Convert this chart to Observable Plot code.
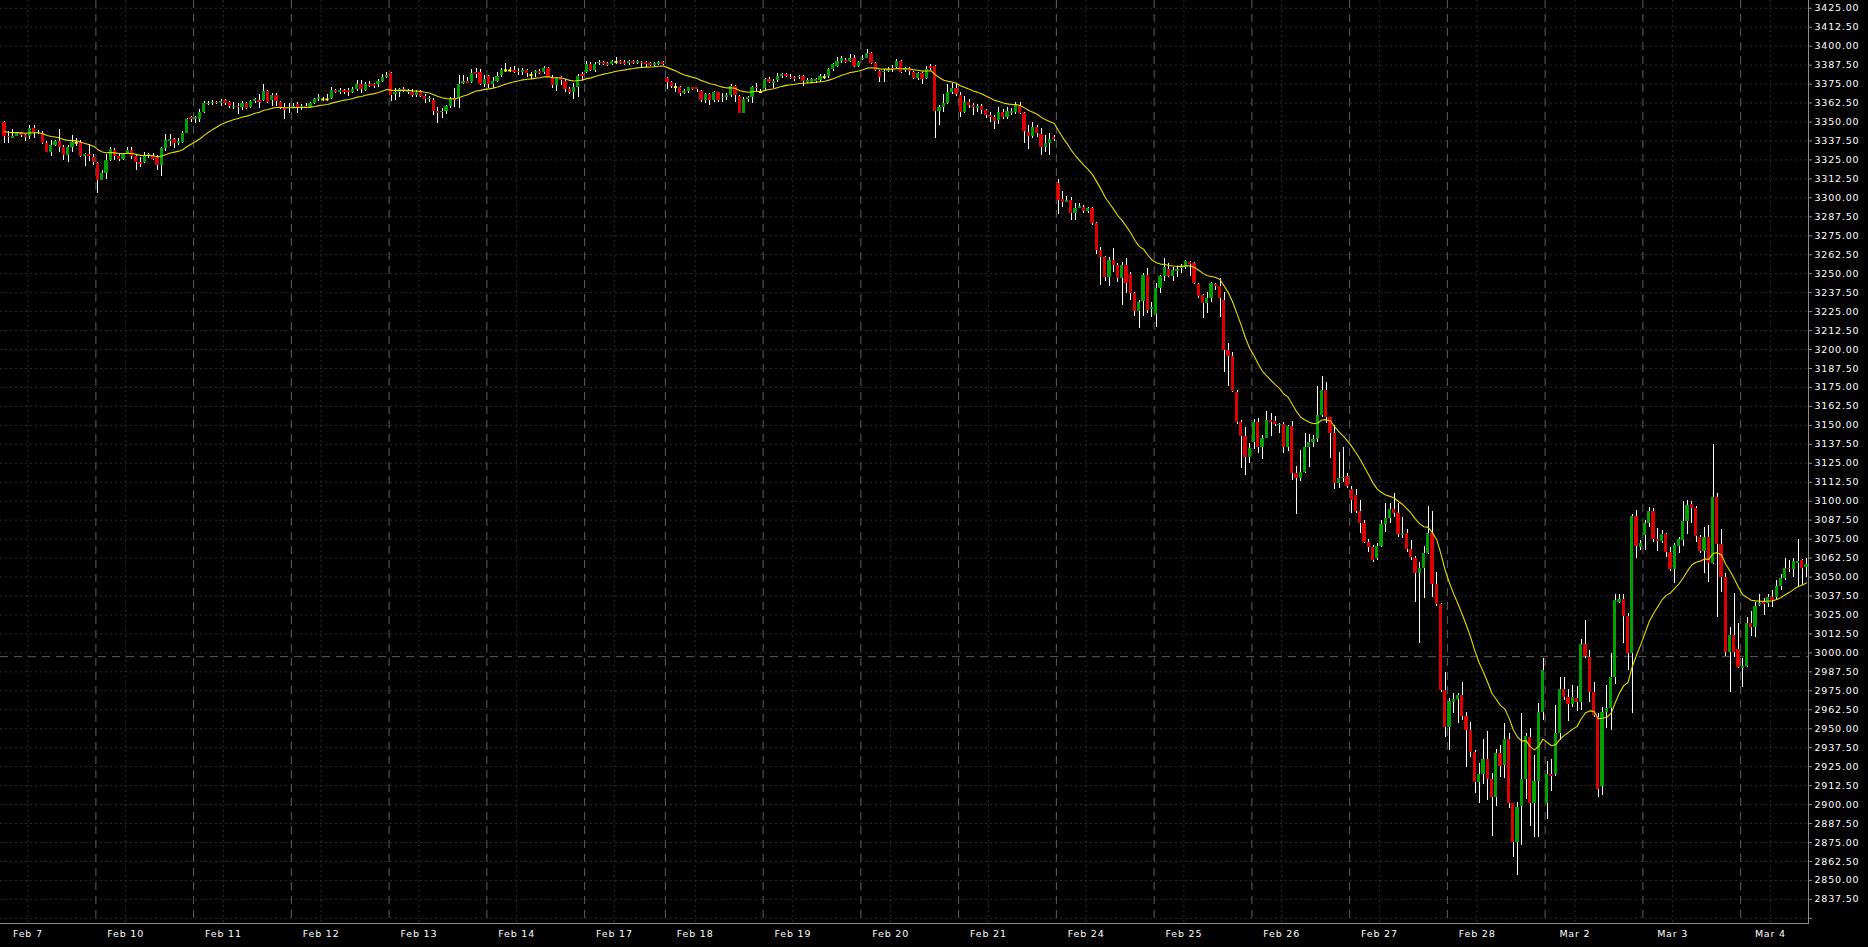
<!DOCTYPE html>
<html><head><meta charset="utf-8">
<script src="https://cdn.jsdelivr.net/npm/d3@7"></script>
<script src="https://cdn.jsdelivr.net/npm/@observablehq/plot@0.6"></script>
<style>html,body{margin:0;padding:0;background:#000;overflow:hidden}</style>
</head><body><div id="chart"></div>
<script>
// ---- Data (hourly candles, index 0..424) ----
const open = [
3349.7,3340.4,3339.3,3340.7,3342.2,3341.1,3340.4,3345.7,3342.2,3342.6,
3335.6,3330.1,3334.5,3337.1,3333.0,3327.9,3333.0,3336.3,3336.3,3327.5,
3328.3,3326.8,3322.4,3311.6,3315.8,3324.6,3331.2,3327.5,3325.3,3329.0,
3331.2,3327.5,3323.1,3323.1,3327.5,3327.5,3326.8,3321.3,3332.7,3337.1,
3338.5,3336.0,3336.7,3342.6,3352.8,3351.7,3351.7,3356.5,3361.6,3362.0,
3363.1,3362.4,3364.2,3362.7,3359.8,3360.5,3359.8,3362.4,3359.8,3363.5,
3364.2,3364.2,3370.1,3364.2,3367.5,3363.1,3359.8,3359.1,3359.4,3361.3,
3359.4,3360.2,3359.8,3362.0,3364.6,3364.9,3364.9,3365.7,3370.8,3369.3,
3370.8,3370.8,3369.7,3371.2,3374.8,3370.8,3374.8,3374.8,3374.8,3376.7,
3379.2,3381.8,3368.0,3369.3,3371.2,3369.3,3369.7,3367.5,3370.1,3366.8,
3364.6,3364.2,3357.2,3356.1,3357.2,3360.2,3365.3,3365.3,3375.6,3376.7,
3375.9,3382.5,3382.5,3374.8,3380.3,3374.8,3377.0,3380.7,3384.0,3384.0,
3384.0,3383.6,3382.9,3384.0,3380.9,3381.8,3383.3,3382.5,3385.3,3379.2,
3374.1,3379.2,3377.0,3371.5,3369.3,3373.0,3381.4,3382.5,3388.0,3384.0,
3388.4,3389.1,3388.4,3387.7,3389.5,3389.9,3389.5,3388.4,3389.9,3388.8,
3389.5,3389.1,3388.4,3387.3,3388.0,3389.3,3378.9,3376.3,3373.0,3372.6,
3369.0,3370.4,3372.6,3372.6,3370.4,3364.2,3368.2,3364.2,3369.3,3365.3,
3366.4,3367.5,3373.7,3367.1,3355.8,3364.9,3366.0,3373.0,3369.7,3371.9,
3378.1,3375.2,3377.4,3380.0,3381.1,3379.6,3379.2,3379.2,3380.0,3376.3,
3376.3,3377.0,3377.4,3379.6,3380.3,3384.7,3386.9,3389.9,3390.6,3390.2,
3392.1,3386.9,3391.0,3392.1,3395.0,3388.8,3383.3,3382.5,3383.6,3385.5,
3385.8,3389.9,3384.0,3385.5,3382.9,3378.9,3381.8,3378.9,3386.6,3386.6,
3357.2,3359.8,3362.0,3369.7,3372.3,3367.5,3356.5,3363.1,3360.9,3358.7,
3360.5,3357.6,3354.3,3352.8,3351.0,3356.5,3352.8,3355.8,3356.5,3360.5,
3355.8,3343.3,3340.7,3346.2,3341.8,3333.4,3336.0,3340.0,3309.3,3298.9,
3297.2,3298.3,3289.5,3293.2,3293.4,3291.2,3292.8,3283.3,3265.3,3260.5,
3247.7,3258.7,3255.4,3247.1,3255.4,3249.5,3236.7,3225.3,3231.7,3248.8,
3226.2,3223.1,3240.0,3248.2,3252.6,3248.2,3251.7,3253.2,3254.3,3257.6,
3256.5,3242.9,3235.6,3230.5,3233.9,3242.9,3241.6,3232.3,3199.4,3195.6,
3171.9,3152.1,3142.9,3128.6,3138.9,3152.1,3135.6,3141.6,3153.2,3152.8,
3149.7,3150.4,3135.6,3149.3,3118.5,3114.7,3119.2,3135.6,3138.9,3140.7,
3156.5,3173.0,3155.4,3144.4,3111.9,3114.7,3116.3,3107.5,3103.8,3093.4,
3085.5,3073.0,3069.7,3062.0,3070.1,3084.6,3088.8,3094.3,3092.1,3077.4,
3078.5,3068.2,3062.5,3052.2,3055.5,3065.8,3078.5,3045.1,3031.9,2975.2,
2951.0,2967.5,2969.3,2971.9,2958.3,2948.8,2934.6,2914.8,2919.8,2929.5,
2916.3,2904.9,2933.5,2925.8,2942.9,2900.5,2875.2,2899.0,2916.5,2944.0,
2900.9,2915.2,2960.9,2900.9,2919.8,2919.6,2946.7,2975.7,2970.4,2965.8,
2969.7,2967.5,3005.6,2997.2,2974.1,2957.2,2912.0,2960.9,2963.6,2983.6,
3033.5,3035.0,3024.0,2999.4,3090.0,3069.7,3077.4,3085.1,3093.2,3074.8,
3073.5,3077.9,3066.0,3055.0,3070.4,3074.1,3086.6,3097.9,3095.4,3076.3,
3067.1,3075.9,3058.7,3102.3,3071.5,3050.0,3000.5,3011.5,3002.0,2989.5,
2991.1,3019.6,3016.5,3031.3,3033.5,3032.8,3036.8,3036.8,3044.0,3049.3,
3055.9,3054.8,3059.2,3060.9,3056.1];

const high = [
3350.3,3344.0,3344.8,3343.3,3343.3,3341.8,3347.5,3347.5,3344.2,3343.7,
3337.1,3337.8,3337.8,3345.1,3334.5,3334.5,3341.1,3339.3,3337.8,3329.0,
3335.2,3328.6,3323.5,3318.0,3328.6,3333.4,3332.7,3328.3,3329.4,3333.0,
3333.0,3328.3,3326.8,3329.7,3329.4,3329.0,3327.9,3333.4,3341.8,3341.8,
3338.9,3338.9,3343.5,3352.5,3353.9,3353.6,3358.0,3363.5,3363.8,3364.2,
3363.8,3364.6,3364.6,3363.8,3362.7,3362.4,3363.5,3363.1,3364.2,3365.7,
3367.9,3374.5,3370.8,3368.6,3368.6,3363.8,3362.4,3362.4,3362.4,3363.1,
3361.3,3362.0,3363.1,3365.3,3367.9,3366.4,3367.9,3372.6,3371.7,3371.9,
3371.7,3372.1,3373.0,3377.4,3377.4,3376.3,3377.0,3375.6,3378.1,3381.4,
3382.5,3382.5,3371.9,3371.9,3372.6,3371.5,3371.2,3370.8,3370.8,3367.9,
3366.8,3365.3,3359.8,3359.1,3360.9,3366.4,3371.9,3380.7,3380.7,3379.6,
3384.4,3385.1,3384.4,3380.7,3380.7,3379.2,3382.5,3385.1,3388.4,3385.8,
3386.9,3385.1,3385.1,3384.4,3382.9,3384.0,3384.4,3386.6,3385.8,3380.7,
3379.6,3380.0,3377.8,3373.0,3375.2,3381.1,3382.5,3389.9,3389.5,3389.5,
3390.6,3389.7,3389.5,3390.6,3392.8,3390.6,3390.6,3390.6,3390.6,3390.6,
3390.2,3389.9,3389.1,3389.3,3389.7,3389.7,3379.6,3377.0,3375.2,3373.4,
3371.2,3373.0,3373.0,3373.0,3370.8,3368.6,3369.0,3370.4,3369.7,3368.6,
3368.6,3374.8,3374.1,3367.5,3366.0,3366.8,3373.4,3375.6,3371.2,3378.9,
3379.6,3377.8,3381.8,3382.2,3382.2,3381.1,3380.0,3380.7,3380.7,3378.5,
3378.5,3378.5,3381.1,3381.1,3385.5,3388.8,3392.4,3393.2,3392.1,3394.3,
3393.9,3390.2,3393.9,3397.6,3396.1,3389.5,3384.0,3384.4,3386.2,3387.3,
3391.0,3390.6,3386.2,3386.2,3383.6,3382.5,3382.9,3386.9,3387.7,3387.3,
3360.9,3368.2,3374.5,3375.2,3374.5,3369.7,3366.8,3364.6,3362.4,3361.6,
3361.6,3358.3,3356.5,3354.3,3359.4,3358.0,3359.4,3358.7,3363.1,3362.7,
3356.5,3347.7,3349.9,3347.7,3345.5,3341.1,3342.2,3341.1,3311.9,3304.2,
3300.9,3300.0,3296.1,3296.1,3295.0,3293.9,3293.4,3284.0,3267.5,3261.4,
3260.5,3266.4,3256.5,3257.6,3259.8,3251.0,3237.8,3232.3,3250.4,3253.2,
3231.2,3243.3,3248.8,3259.8,3257.0,3254.3,3254.3,3256.1,3258.7,3258.3,
3257.6,3243.8,3236.3,3237.8,3244.4,3243.8,3246.6,3237.8,3203.8,3197.8,
3173.0,3153.2,3148.8,3138.3,3153.7,3154.3,3143.3,3159.4,3158.1,3155.8,
3151.5,3151.7,3149.9,3152.8,3122.9,3133.4,3144.9,3143.8,3143.3,3175.6,
3182.2,3178.5,3155.4,3149.9,3132.3,3135.6,3118.1,3109.7,3107.5,3100.5,
3087.3,3074.5,3070.8,3071.9,3087.3,3098.7,3098.3,3104.9,3098.3,3089.5,
3081.2,3074.1,3063.6,3059.8,3070.2,3096.5,3093.3,3052.8,3032.8,2987.3,
2969.7,2973.0,2973.0,2980.7,2960.5,2953.9,2935.7,2926.9,2942.9,2948.4,
2920.3,2936.1,2939.0,2953.7,2946.7,2900.9,2901.6,2959.8,2946.7,2949.9,
2932.4,2966.9,2996.1,2928.6,2929.5,2965.3,2984.0,2984.0,2975.7,2978.5,
2977.9,3008.6,3021.4,3001.6,2980.7,2959.8,2964.0,2978.5,2999.4,3038.5,
3038.5,3038.5,3025.8,3091.3,3093.9,3074.1,3087.3,3096.1,3095.0,3081.8,
3080.7,3078.5,3069.7,3071.9,3076.3,3100.1,3100.5,3099.8,3096.7,3077.4,
3082.9,3084.0,3137.4,3104.9,3081.2,3052.1,3017.0,3039.4,3019.2,2996.1,
3023.6,3027.5,3033.5,3038.5,3035.7,3038.5,3041.2,3047.7,3051.5,3062.0,
3060.9,3062.0,3074.6,3061.4,3062.0];

const low = [
3336.0,3336.0,3338.9,3340.4,3339.6,3337.1,3338.7,3339.1,3341.8,3334.9,
3330.1,3327.2,3333.8,3330.1,3324.6,3323.5,3330.1,3334.1,3326.8,3320.6,
3324.2,3321.3,3303.0,3311.4,3312.3,3324.2,3324.6,3323.9,3324.6,3328.3,
3325.3,3318.0,3320.2,3322.4,3325.7,3324.6,3318.0,3314.3,3330.5,3334.1,
3332.7,3334.5,3335.6,3342.2,3349.9,3348.8,3349.9,3355.4,3360.9,3360.9,
3361.3,3360.5,3360.9,3359.1,3358.0,3355.2,3357.6,3358.3,3359.1,3362.4,
3359.1,3363.5,3362.0,3360.5,3360.5,3358.0,3351.7,3355.4,3358.7,3355.4,
3357.6,3358.7,3359.1,3361.3,3363.5,3363.8,3363.8,3364.9,3368.6,3367.9,
3367.9,3366.8,3369.0,3370.4,3368.6,3370.1,3373.0,3371.9,3373.0,3376.3,
3378.5,3363.8,3364.2,3366.4,3369.3,3368.0,3366.4,3366.4,3366.4,3362.4,
3363.1,3354.3,3348.8,3352.1,3355.0,3358.7,3359.8,3358.7,3374.8,3375.2,
3375.2,3378.5,3374.1,3373.0,3371.9,3372.3,3376.3,3379.6,3382.9,3382.9,
3381.8,3380.7,3380.7,3379.6,3378.1,3379.6,3381.4,3381.4,3379.2,3371.9,
3370.4,3374.1,3369.7,3368.2,3364.9,3366.4,3377.4,3381.8,3383.6,3382.9,
3387.3,3387.3,3386.6,3387.3,3388.0,3388.0,3387.1,3387.3,3388.0,3388.0,
3386.2,3386.2,3386.6,3385.8,3387.1,3387.1,3371.5,3371.9,3369.7,3367.1,
3368.2,3368.6,3370.8,3369.3,3363.1,3362.0,3360.9,3362.7,3363.1,3363.1,
3364.2,3366.4,3362.7,3355.4,3355.4,3363.1,3362.0,3369.3,3368.6,3370.8,
3375.2,3372.3,3376.3,3378.9,3379.2,3377.8,3377.0,3377.8,3373.7,3375.2,
3375.6,3375.2,3376.3,3377.8,3378.5,3383.6,3386.2,3388.4,3388.8,3389.5,
3386.2,3385.8,3390.6,3391.7,3388.0,3383.3,3376.3,3376.3,3382.9,3382.9,
3385.1,3381.8,3382.9,3380.7,3377.8,3377.4,3374.8,3377.8,3384.0,3339.3,
3347.7,3356.5,3361.6,3367.9,3366.8,3353.2,3355.8,3358.7,3354.3,3356.5,
3355.0,3352.1,3349.5,3344.8,3348.4,3351.7,3351.7,3354.3,3354.7,3355.0,
3336.0,3331.6,3338.9,3339.6,3327.9,3330.1,3327.9,3337.1,3289.1,3293.9,
3296.7,3285.1,3285.1,3292.8,3289.9,3289.5,3281.8,3262.5,3242.2,3245.1,
3241.8,3251.0,3244.4,3229.1,3237.2,3232.3,3222.0,3213.7,3222.0,3223.6,
3221.4,3214.3,3237.2,3245.1,3247.7,3244.9,3247.3,3249.9,3252.6,3248.2,
3242.9,3233.4,3220.3,3224.0,3231.2,3238.9,3221.4,3185.1,3175.6,3171.9,
3150.6,3121.4,3116.9,3125.1,3133.9,3131.2,3127.3,3141.1,3142.7,3149.3,
3144.4,3131.2,3133.0,3113.6,3091.0,3113.2,3118.5,3122.4,3135.2,3138.9,
3155.4,3151.0,3128.0,3107.5,3108.2,3112.5,3108.2,3092.1,3092.1,3078.5,
3072.3,3066.4,3059.8,3060.9,3069.7,3079.6,3085.1,3089.5,3076.3,3075.2,
3066.4,3060.9,3033.5,3006.4,3036.1,3064.9,3036.3,3030.6,2974.1,2944.4,
2935.7,2959.8,2953.2,2955.4,2924.2,2931.3,2907.5,2900.9,2913.2,2902.7,
2878.9,2898.7,2918.1,2917.4,2897.2,2865.3,2853.2,2873.0,2903.3,2885.8,
2878.5,2878.5,2955.4,2889.9,2908.8,2918.5,2942.3,2968.6,2955.0,2964.2,
2961.4,2962.0,2996.1,2967.5,2957.2,2904.4,2906.0,2950.0,2948.8,2979.2,
3032.4,3006.4,2988.4,2959.8,3062.0,3067.5,3067.5,3082.9,3073.0,3067.1,
3071.9,3062.7,3053.9,3045.5,3065.3,3070.2,3078.1,3085.1,3073.0,3065.3,
3052.1,3046.6,3058.3,3023.6,3040.1,2997.6,2973.7,2997.2,2989.5,2977.0,
2990.6,3010.8,3010.4,3030.8,3024.7,3030.2,3030.2,3034.6,3041.2,3047.7,
3052.8,3049.5,3043.4,3044.5,3049.5];

const close = [
3340.4,3339.6,3340.7,3342.6,3341.3,3340.0,3345.7,3343.1,3343.3,3336.0,
3330.1,3334.5,3337.1,3333.0,3327.9,3333.0,3336.3,3336.3,3327.5,3328.3,
3327.5,3323.1,3311.6,3315.8,3324.6,3331.6,3327.5,3325.3,3329.0,3331.2,
3327.5,3323.1,3321.7,3327.5,3328.3,3325.3,3321.3,3332.7,3337.8,3338.5,
3335.6,3337.1,3342.6,3351.7,3351.4,3352.8,3356.5,3362.4,3362.4,3363.1,
3362.0,3363.5,3362.4,3360.5,3360.5,3359.4,3362.4,3359.1,3363.5,3364.6,
3363.1,3370.1,3363.1,3367.5,3363.5,3359.8,3357.6,3359.8,3360.2,3359.8,
3360.2,3359.4,3362.0,3364.6,3366.0,3364.9,3364.9,3370.8,3369.7,3370.8,
3369.7,3369.3,3371.5,3374.8,3371.2,3374.8,3373.7,3373.7,3376.7,3379.6,
3380.7,3367.5,3369.3,3371.2,3370.1,3370.8,3367.5,3369.7,3366.8,3364.6,
3365.3,3357.2,3355.8,3357.2,3360.2,3364.6,3364.2,3374.8,3376.7,3375.6,
3381.8,3381.4,3374.8,3378.1,3374.8,3377.0,3380.3,3384.0,3384.0,3384.0,
3382.9,3382.5,3384.0,3381.8,3380.9,3383.3,3382.2,3385.3,3379.6,3374.1,
3378.9,3377.4,3371.5,3369.3,3373.0,3380.0,3380.3,3388.0,3384.0,3388.0,
3389.5,3388.0,3387.3,3389.9,3389.5,3388.8,3388.0,3389.9,3388.8,3389.9,
3388.4,3388.0,3387.3,3388.4,3389.3,3388.0,3376.3,3373.7,3373.0,3368.6,
3370.4,3372.6,3371.5,3371.5,3364.2,3368.2,3364.2,3369.3,3364.2,3366.4,
3367.5,3373.7,3367.5,3355.8,3364.9,3366.0,3373.0,3371.9,3369.7,3378.1,
3376.3,3377.0,3380.3,3381.1,3380.3,3378.5,3378.1,3380.3,3377.0,3377.4,
3378.1,3378.1,3380.3,3379.6,3384.7,3387.7,3390.2,3392.1,3389.5,3392.1,
3386.9,3389.1,3392.1,3395.4,3388.8,3384.0,3379.2,3383.6,3384.7,3384.4,
3389.9,3382.9,3385.1,3383.6,3378.9,3381.8,3378.1,3384.4,3385.1,3357.2,
3359.8,3362.0,3369.7,3372.3,3368.2,3356.5,3363.1,3360.9,3359.4,3360.5,
3357.6,3354.3,3352.8,3350.6,3356.5,3352.8,3357.0,3357.2,3360.9,3355.8,
3344.0,3340.7,3346.2,3342.2,3333.4,3336.0,3338.2,3338.5,3298.3,3297.2,
3298.3,3289.5,3293.2,3294.3,3291.2,3292.8,3283.3,3265.3,3260.5,3247.7,
3258.7,3255.4,3247.1,3255.4,3243.3,3236.7,3225.3,3231.0,3248.8,3225.8,
3227.5,3240.0,3248.2,3253.9,3248.2,3252.1,3252.8,3255.0,3258.1,3256.1,
3243.3,3235.0,3230.5,3233.9,3243.3,3241.6,3233.4,3199.4,3195.6,3172.6,
3152.1,3142.9,3128.6,3134.5,3152.1,3135.6,3141.6,3153.2,3152.1,3150.4,
3150.6,3135.6,3149.3,3118.5,3114.7,3119.2,3135.6,3138.9,3140.7,3156.5,
3173.0,3155.4,3144.9,3111.9,3114.7,3115.8,3109.7,3100.5,3093.4,3085.5,
3073.0,3069.7,3060.9,3070.1,3084.6,3088.8,3094.3,3092.1,3078.1,3078.5,
3068.2,3062.7,3052.6,3055.5,3065.3,3078.5,3045.1,3031.9,2975.2,2950.6,
2968.0,2969.3,2971.9,2958.3,2948.8,2934.6,2914.8,2919.8,2929.5,2916.3,
2904.9,2933.5,2925.3,2942.9,2900.5,2875.2,2898.3,2916.5,2945.1,2900.9,
2915.2,2960.9,2988.4,2919.6,2918.7,2946.7,2975.7,2970.8,2965.8,2970.4,
2967.1,3005.6,2997.6,2974.1,2958.7,2909.7,2961.0,2963.6,2983.6,3034.6,
3035.0,3024.0,2999.8,3090.0,3070.2,3071.9,3085.1,3093.2,3074.8,3073.7,
3077.9,3066.4,3055.0,3070.8,3074.8,3086.6,3097.2,3095.4,3077.0,3067.1,
3075.9,3058.7,3102.3,3071.5,3050.0,3000.5,3011.5,3000.5,2990.6,2991.1,
3019.6,3016.5,3030.8,3032.4,3031.9,3036.8,3034.6,3044.0,3049.3,3055.9,
3054.8,3060.3,3060.3,3055.9,3058.3];

const dayLabels = ["Feb 7","Feb 10","Feb 11","Feb 12","Feb 13","Feb 14","Feb 17","Feb 18","Feb 19","Feb 20",
  "Feb 21","Feb 24","Feb 25","Feb 26","Feb 27","Feb 28","Mar 2","Mar 3","Mar 4"];
const dayFirstBar = [-1,22,45,68,91,114,137,156,179,202,225,248,271,294,317,340,363,386,409];
const priceTicks = d3.range(2825, 3425.001, 12.5);
const levelLine = [2997.5];
const emaPeriod = 20;
const emaStart = 3344;

// ---- Build ----
const bars = open.map((o, i) => ({i, open: o, high: high[i], low: low[i], close: close[i]}));
const up = bars.filter(d => d.close > d.open);
const down = bars.filter(d => d.close < d.open);
const doji = bars.filter(d => d.close === d.open);
const alpha = 2 / (emaPeriod + 1);
let e = emaStart;
const ema = bars.map(d => { e = e + alpha * (d.close - e); return {i: d.i, v: e}; });

const labelAt = dayFirstBar.map(b => b + 6.5);
const separators = dayFirstBar.slice(1).map(b => b - 0.5);
const half = 0.36;

const grid = "#2b2b2b", sepColor = "#5e5e5e";
const chart = Plot.plot({
  width: 1868, height: 947,
  marginLeft: 0, marginRight: 60, marginTop: 0, marginBottom: 24,
  x: {domain: [-0.94, 424.47], axis: null, label: null},
  y: {domain: [2821.6, 3430.1], axis: null, label: null},
  style: "background:#000;color:#fff;font-family:'DejaVu Sans',sans-serif;font-size:9.5px;letter-spacing:0.8px;overflow:visible",
  marks: [
    Plot.ruleY(priceTicks, {stroke: grid, strokeDasharray: "2,3"}),
    Plot.ruleX(labelAt, {stroke: grid, strokeDasharray: "2,3"}),
    Plot.ruleX(separators, {stroke: sepColor, strokeDasharray: "8,6"}),
    Plot.ruleY(levelLine, {stroke: sepColor, strokeDasharray: "8,6"}),
    Plot.ruleX(bars, {x: "i", y1: "low", y2: "high", stroke: "#ffffff", strokeWidth: 1, shapeRendering: "crispEdges"}),
    Plot.rect(up, {x1: d => d.i - half, x2: d => d.i + half, y1: "open", y2: "close", fill: "#00a000", shapeRendering: "crispEdges"}),
    Plot.rect(down, {x1: d => d.i - half, x2: d => d.i + half, y1: "open", y2: "close", fill: "#dd0000", shapeRendering: "crispEdges"}),
    Plot.ruleY(doji, {y: "close", x1: d => d.i - half, x2: d => d.i + half, stroke: "#ffff00", strokeWidth: 2}),
    Plot.line(ema, {x: "i", y: "v", stroke: "#e6dc00", strokeWidth: 1.1}),
    Plot.frame({anchor: "right", stroke: "#8c8c8c"}),
    Plot.frame({anchor: "bottom", stroke: "#8c8c8c"}),
    Plot.axisY({anchor: "right", ticks: priceTicks, tickSize: 3, tickPadding: 3, label: null,
      tickFormat: d => d === 2825 ? "" : d.toFixed(2), stroke: "#8c8c8c", fill: "#ffffff"}),
    Plot.axisX({ticks: labelAt, tickSize: 0, tickPadding: 7, label: null,
      tickFormat: d => dayLabels[labelAt.indexOf(d)], fill: "#ffffff"})
  ]
});
document.getElementById("chart").appendChild(chart);
</script>
</body></html>
